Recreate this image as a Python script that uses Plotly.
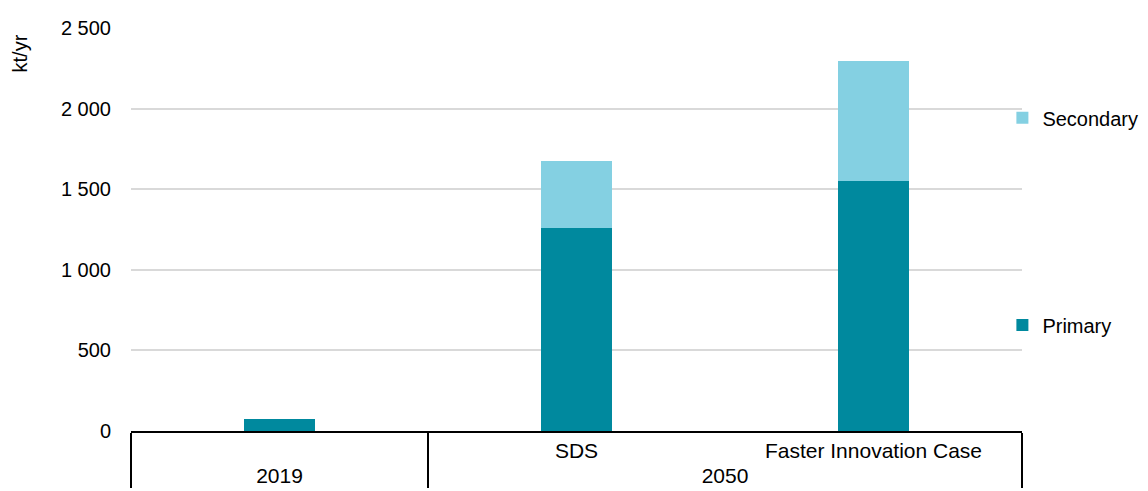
import plotly.graph_objects as go

years = ["2019", "2050", "2050"]
scenarios = [" ", "SDS", "Faster Innovation Case"]
primary = [73, 1257, 1550]
secondary = [0, 418, 745]

y_ticks = [0, 500, 1000, 1500, 2000, 2500]
y_labels = ["0", "500", "1 000", "1 500", "2 000", "2 500"]

FONT = "Liberation Sans, Arial, sans-serif"

fig = go.Figure()
fig.add_trace(
    go.Bar(
        x=[years, scenarios],
        y=primary,
        name="Primary",
        marker_color="#00899E",
        marker_line_width=0,
        legend="legend",
        showlegend=True,
    )
)
fig.add_trace(
    go.Bar(
        x=[years, scenarios],
        y=secondary,
        name="Secondary",
        marker_color="#84D0E2",
        marker_line_width=0,
        legend="legend2",
        showlegend=True,
    )
)

# the page body adds an 8px offset, so the figure is 8px smaller than the window
fig.update_layout(
    template="none",
    showlegend=True,
    barmode="stack",
    bargap=0.758,
    width=1140,
    height=483,
    margin={"l": 123, "r": 126, "t": 20, "b": 60, "autoexpand": False},
    plot_bgcolor="white",
    paper_bgcolor="white",
    font={"family": FONT, "size": 20, "color": "#000000"},
    legend={
        "x": 0.978,
        "xanchor": "left",
        "y": 0.263,
        "yanchor": "middle",
        "bgcolor": "rgba(0,0,0,0)",
        "font": {"size": 20},
    },
    legend2={
        "x": 0.978,
        "xanchor": "left",
        "y": 0.777,
        "yanchor": "middle",
        "bgcolor": "rgba(0,0,0,0)",
        "font": {"size": 20},
    },
    annotations=[
        {
            "text": "kt/yr",
            "xref": "paper",
            "yref": "paper",
            "x": -0.125,
            "y": 0.988,
            "xanchor": "center",
            "yanchor": "top",
            "textangle": -90,
            "showarrow": False,
            "font": {"size": 20},
        }
    ],
)

fig.update_xaxes(
    type="multicategory",
    automargin=False,
    showline=True,
    linecolor="black",
    linewidth=1.5,
    showdividers=True,
    dividercolor="black",
    dividerwidth=1.5,
    showgrid=False,
    zeroline=False,
    ticks="",
    tickfont={"size": 21},
)

fig.update_yaxes(
    automargin=False,
    range=[0, 2500],
    tickvals=y_ticks,
    ticktext=y_labels,
    showgrid=True,
    gridcolor="#D9D9D9",
    gridwidth=1.5,
    zeroline=False,
    showline=False,
    ticks="outside",
    ticklen=15,
    tickcolor="rgba(0,0,0,0)",
    tickfont={"size": 20},
)

fig.write_html("out.html")
